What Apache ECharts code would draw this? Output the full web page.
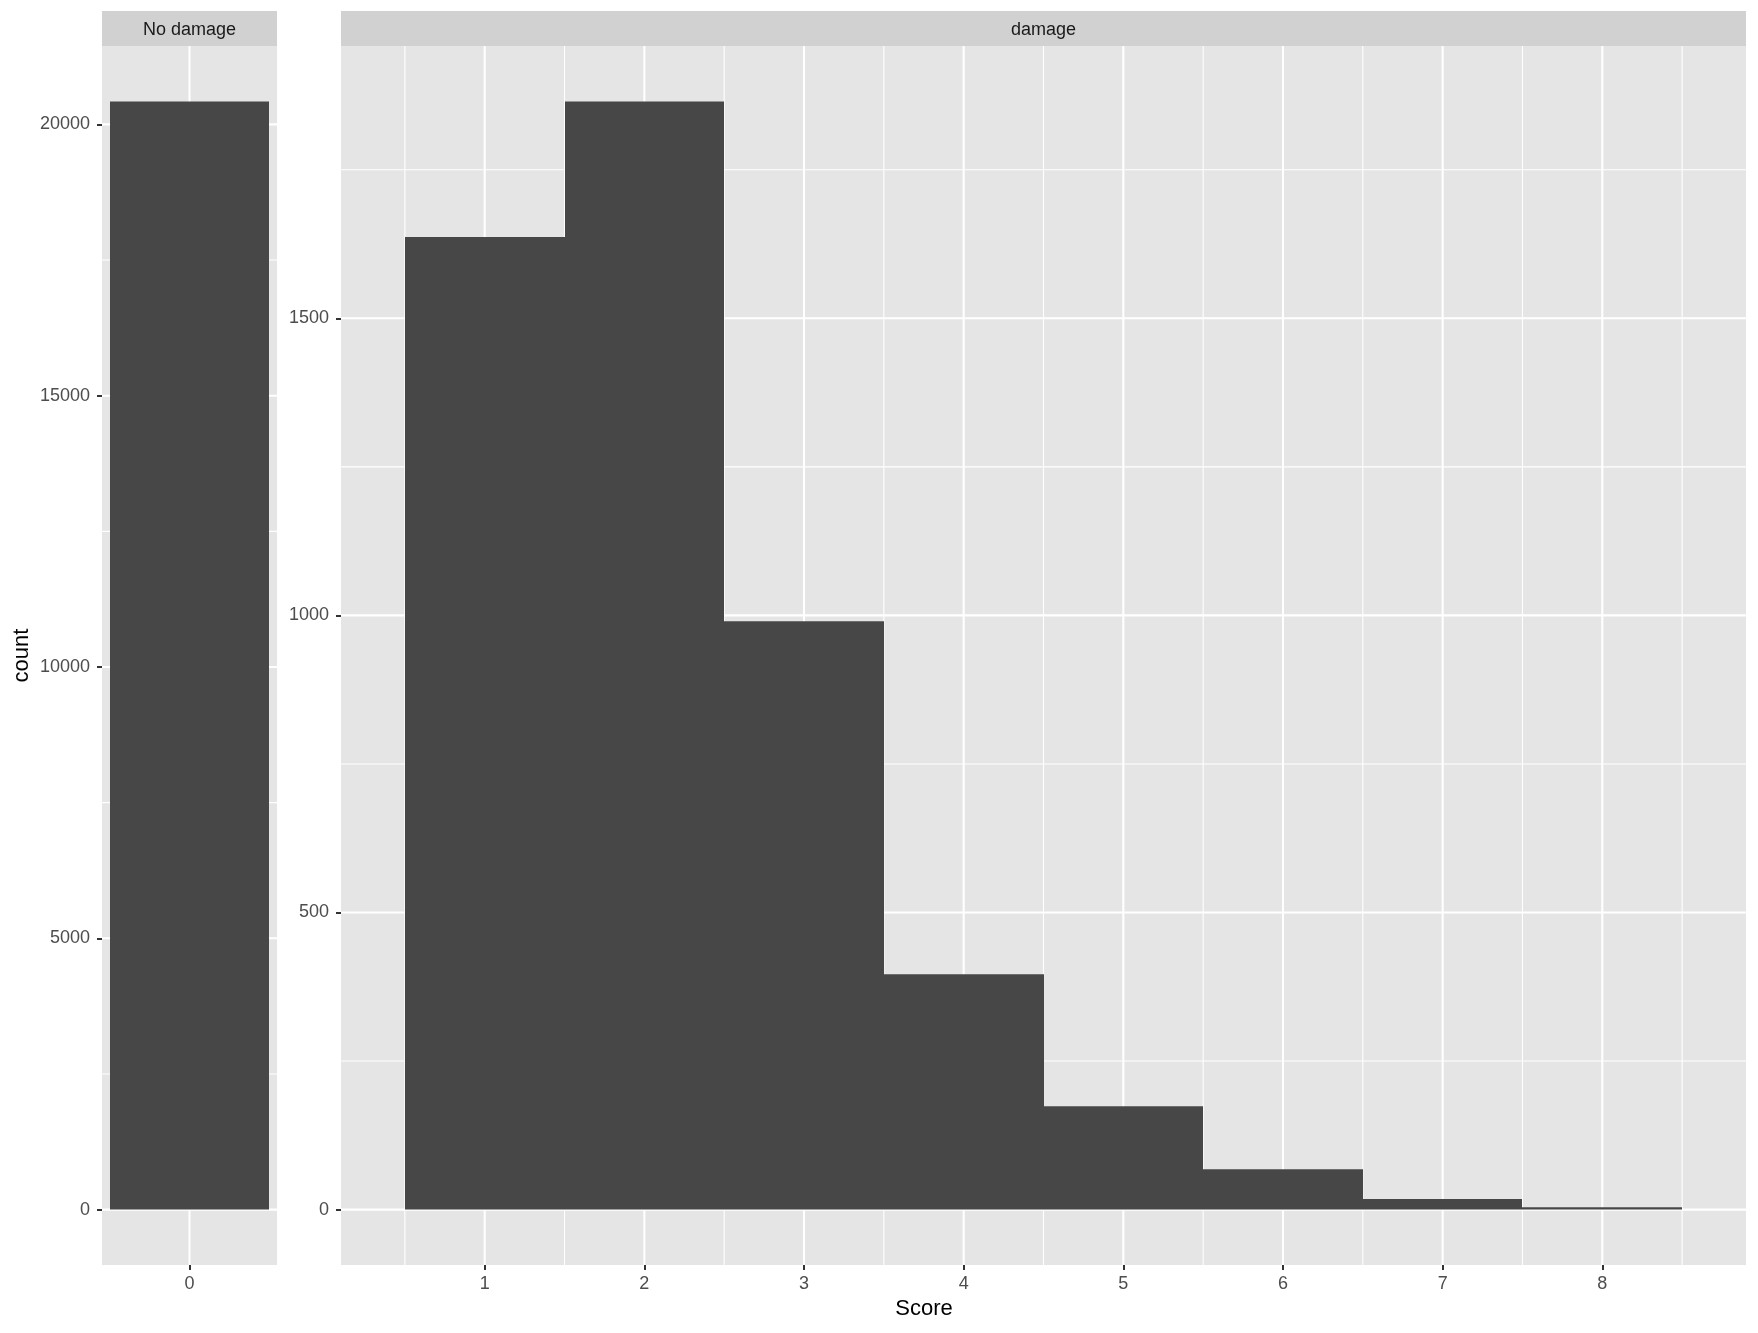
<!DOCTYPE html>
<html>
<head>
<meta charset="utf-8">
<script src="https://cdn.jsdelivr.net/npm/echarts@6/dist/echarts.min.js"></script>
<style>
  html, body { margin: 0; padding: 0; background: #ffffff; }
  #chart { width: 1758px; height: 1333px; }
</style>
</head>
<body>
<div id="chart"></div>
<script>
// ---------- data ----------
const panelNames = ['No damage', 'damage'];
const scoreNoDamage = [0];
const countNoDamage = [20424];
const scoreDamage = [1, 2, 3, 4, 5, 6, 7, 8];
const countDamage = [1637, 1865, 990, 396, 174, 68, 18, 4];

// tick labels / grid breaks
const xTicksNoDamage = [0];
const xTicksDamage = [1, 2, 3, 4, 5, 6, 7, 8];
const xMinorDamage = [0.5, 1.5, 2.5, 3.5, 4.5, 5.5, 6.5, 7.5, 8.5];
const yTicksNoDamage = [0, 5000, 10000, 15000, 20000];
const yMinorNoDamage = [2500, 7500, 12500, 17500];
const yTicksDamage = [0, 500, 1000, 1500];
const yMinorDamage = [250, 750, 1250, 1750];

const xTitle = 'Score';
const yTitle = 'count';

// ---------- styling ----------
const FONT = '"Liberation Sans", Arial, Helvetica, sans-serif';
const BAR = '#474747';
const PANEL_BG = '#E5E5E5';
const STRIP_BG = '#D1D1D1';
const TICK_TXT = '#4D4D4D';

const G0 = { left: 102, top: 46, width: 175, height: 1219 };
const G1 = { left: 341, top: 46, width: 1405, height: 1219 };

// ggplot-like 5% expansion of ranges
function expand(lo, hi) { const d = (hi - lo) * 0.05; return [lo - d, hi + d]; }
const yr0 = expand(0, Math.max(...countNoDamage));
const yr1 = expand(0, Math.max(...countDamage));
const xr0 = expand(Math.min(...scoreNoDamage) - 0.5, Math.max(...scoreNoDamage) + 0.5);
const xr1 = expand(Math.min(...scoreDamage) - 0.5, Math.max(...scoreDamage) + 0.5);

function barItem(params, api) {
  const x = api.value(0), y = api.value(1);
  const p0 = api.coord([x - 0.5, y]);
  const p1 = api.coord([x + 0.5, 0]);
  const x0 = Math.round(p0[0]), x1 = Math.round(p1[0]);
  return { type: 'rect', shape: { x: x0, y: p0[1], width: x1 - x0, height: p1[1] - p0[1] },
           style: { fill: BAR } };
}
function vLine(width) {
  return function (params, api) {
    const cs = params.coordSys;
    const p = api.coord([api.value(0), 0]);
    return { type: 'line', shape: { x1: p[0], y1: cs.y, x2: p[0], y2: cs.y + cs.height },
             style: { stroke: '#ffffff', lineWidth: width } };
  };
}
function hLineSeries(idx, vals, w) {
  return { type: 'custom', xAxisIndex: idx, yAxisIndex: idx, z: 1, silent: true,
           encode: { y: 0 }, data: vals.map(v => [v]), renderItem: function (params, api) {
             const cs = params.coordSys;
             const p = api.coord([0, api.value(0)]);
             return { type: 'line', shape: { x1: cs.x, y1: p[1], x2: cs.x + cs.width, y2: p[1] },
                      style: { stroke: '#ffffff', lineWidth: w } };
           } };
}
function vLineSeries(idx, vals, w) {
  return { type: 'custom', xAxisIndex: idx, yAxisIndex: idx, z: 1, silent: true,
           encode: { x: 0 }, data: vals.map(v => [v]), renderItem: vLine(w) };
}

function xAxisDef(idx, range, ticks) {
  return {
    type: 'value', gridIndex: idx, min: range[0], max: range[1], position: 'bottom',
    axisLine: { show: false, onZero: false },
    axisTick: { show: true, length: 5, lineStyle: { color: '#333333', width: 2 }, customValues: ticks },
    axisLabel: { show: true, margin: 10, color: TICK_TXT, fontSize: 18, fontFamily: FONT,
                 customValues: ticks, formatter: v => String(v) },
    splitLine: { show: false }, minorSplitLine: { show: false }
  };
}
function yAxisDef(idx, range, ticks) {
  return {
    type: 'value', gridIndex: idx, min: range[0], max: range[1], position: 'left',
    axisLine: { show: false, onZero: false },
    axisTick: { show: true, length: 5, lineStyle: { color: '#333333', width: 2 }, customValues: ticks },
    axisLabel: { show: true, margin: 12, color: TICK_TXT, fontSize: 18, fontFamily: FONT,
                 customValues: ticks, formatter: v => String(v) },
    splitLine: { show: false }
  };
}

const chart = echarts.init(document.getElementById('chart'), null, { renderer: 'canvas' });
chart.setOption({
  animation: false,
  backgroundColor: '#ffffff',
  grid: [
    Object.assign({ show: true, backgroundColor: PANEL_BG, borderWidth: 0, containLabel: false }, G0),
    Object.assign({ show: true, backgroundColor: PANEL_BG, borderWidth: 0, containLabel: false }, G1)
  ],
  xAxis: [xAxisDef(0, xr0, xTicksNoDamage), xAxisDef(1, xr1, xTicksDamage)],
  yAxis: [yAxisDef(0, yr0, yTicksNoDamage), yAxisDef(1, yr1, yTicksDamage)],
  graphic: [
    { type: 'rect', shape: { x: G0.left, y: 11, width: G0.width, height: 35 }, style: { fill: STRIP_BG }, silent: true },
    { type: 'rect', shape: { x: G1.left, y: 11, width: G1.width, height: 35 }, style: { fill: STRIP_BG }, silent: true },
    { type: 'text', x: G0.left + G0.width / 2, y: 30, silent: true,
      style: { text: panelNames[0], fill: '#1A1A1A', font: '18px ' + FONT, align: 'center', verticalAlign: 'middle' } },
    { type: 'text', x: G1.left + G1.width / 2, y: 30, silent: true,
      style: { text: panelNames[1], fill: '#1A1A1A', font: '18px ' + FONT, align: 'center', verticalAlign: 'middle' } },
    { type: 'text', x: (G0.left + G1.left + G1.width) / 2, y: 1309, silent: true,
      style: { text: xTitle, fill: '#000000', font: '22px ' + FONT, align: 'center', verticalAlign: 'middle' } },
    { type: 'text', x: 22, y: G0.top + G0.height / 2, rotation: Math.PI / 2, silent: true,
      style: { text: yTitle, fill: '#000000', font: '22px ' + FONT, align: 'center', verticalAlign: 'middle' } }
  ],
  series: [
    hLineSeries(0, yMinorNoDamage, 1.1),
    hLineSeries(0, yTicksNoDamage, 2.1),
    vLineSeries(0, xTicksNoDamage, 2.1),
    hLineSeries(1, yMinorDamage, 1.1),
    hLineSeries(1, yTicksDamage, 2.1),
    vLineSeries(1, xMinorDamage, 1.1),
    vLineSeries(1, xTicksDamage, 2.1),
    { type: 'custom', xAxisIndex: 0, yAxisIndex: 0, z: 5, encode: { x: 0, y: 1 },
      data: scoreNoDamage.map((s, i) => [s, countNoDamage[i]]), renderItem: barItem },
    { type: 'custom', xAxisIndex: 1, yAxisIndex: 1, z: 5, encode: { x: 0, y: 1 },
      data: scoreDamage.map((s, i) => [s, countDamage[i]]), renderItem: barItem }
  ]
});
</script>
</body>
</html>
